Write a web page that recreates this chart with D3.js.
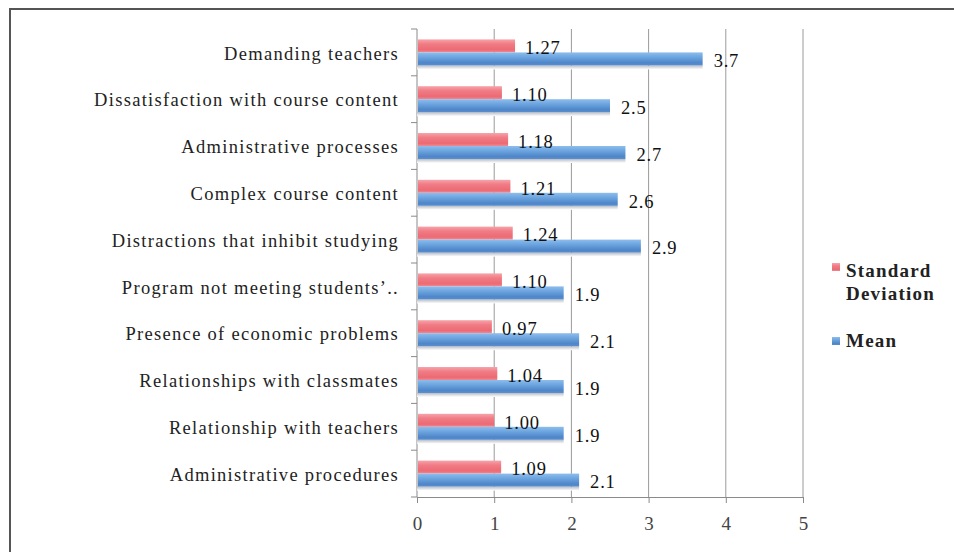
<!DOCTYPE html>
<html>
<head>
<meta charset="utf-8">
<script src="https://cdn.jsdelivr.net/npm/d3@7"></script>
<style>
  body { margin: 0; background: #fff; }
  text { font-family: "Liberation Serif", "Times New Roman", serif; }
</style>
</head>
<body>
<div id="chart"></div>
<script>
// chart values
var categories = [
  "Demanding teachers",
  "Dissatisfaction with course content",
  "Administrative processes",
  "Complex course content",
  "Distractions that inhibit studying",
  "Program not meeting students’..",
  "Presence of economic problems",
  "Relationships with classmates",
  "Relationship with teachers",
  "Administrative procedures"
];
var sdValues   = [1.27, 1.10, 1.18, 1.21, 1.24, 1.10, 0.97, 1.04, 1.00, 1.09];
var sdLabels   = ["1.27", "1.10", "1.18", "1.21", "1.24", "1.10", "0.97", "1.04", "1.00", "1.09"];
var meanValues = [3.7, 2.5, 2.7, 2.6, 2.9, 1.9, 2.1, 1.9, 1.9, 2.1];
var meanLabels = ["3.7", "2.5", "2.7", "2.6", "2.9", "1.9", "2.1", "1.9", "1.9", "2.1"];
var seriesNames = ["Standard Deviation", "Mean"];
var xTicks = [0, 1, 2, 3, 4, 5];

var W = 954, H = 552;
var svg = d3.select("#chart").append("svg")
    .attr("width", W)
    .attr("height", H);

var defs = svg.append("defs");
function grad(id, stops) {
  var g = defs.append("linearGradient").attr("id", id)
      .attr("x1", 0).attr("y1", 0).attr("x2", 0).attr("y2", 1);
  stops.forEach(function(s) {
    g.append("stop").attr("offset", s[0]).attr("stop-color", s[1]);
  });
}
grad("gRed", [[0, "#f7a3aa"], [0.35, "#f07c85"], [0.8, "#ec6a74"], [1, "#f08a92"]]);
grad("gBlue", [[0, "#8ebdec"], [0.35, "#6ea6e0"], [0.8, "#4f86c9"], [1, "#5a8fcf"]]);
grad("gShadow", [[0, "#b8bcc4"], [1, "#ffffff"]]);

// frame
svg.append("line").attr("x1", 9).attr("x2", W).attr("y1", 9).attr("y2", 9)
  .attr("stroke", "#555").attr("stroke-width", 2);
svg.append("line").attr("x1", 10).attr("x2", 10).attr("y1", 8).attr("y2", H)
  .attr("stroke", "#555").attr("stroke-width", 2);

var x = d3.scaleLinear().domain([0, 5]).range([417, 803]);
var y = d3.scaleBand().domain(categories).range([29, 497]);
var ySub = d3.scaleBand().domain(seriesNames).range([0, y.bandwidth()]).paddingOuter(0.8);

// gridlines
svg.append("g").selectAll("line")
  .data(xTicks.slice(1))
  .enter().append("line")
    .attr("x1", function(d) { return x(d); })
    .attr("x2", function(d) { return x(d); })
    .attr("y1", 29).attr("y2", 497)
    .attr("stroke", "#9a9a9a").attr("stroke-width", 1);

// x axis
var xAxis = svg.append("g")
    .attr("transform", "translate(0,497)")
    .call(d3.axisBottom(x).tickValues(xTicks).tickFormat(d3.format("d"))
      .tickSize(6).tickSizeOuter(0).tickPadding(14));
xAxis.select(".domain").attr("stroke", "#8a8a8a");
xAxis.selectAll(".tick line").attr("stroke", "#8a8a8a");
xAxis.selectAll(".tick text")
    .style("font-family", "'Liberation Serif', serif")
    .style("font-size", "19px")
    .attr("fill", "#444");

// y axis line and boundary ticks
svg.append("line").attr("x1", 417).attr("x2", 417).attr("y1", 29).attr("y2", 497)
  .attr("stroke", "#8a8a8a");
var bounds = categories.map(function(c) { return y(c); }).concat([y.range()[1]]);
svg.append("g").selectAll("line")
  .data(bounds)
  .enter().append("line")
    .attr("x1", 411).attr("x2", 417)
    .attr("y1", function(d) { return d; })
    .attr("y2", function(d) { return d; })
    .attr("stroke", "#8a8a8a");

// category labels
svg.append("g").selectAll("text")
  .data(categories)
  .enter().append("text")
    .attr("x", 399)
    .attr("y", function(d) { return y(d) + y.bandwidth() / 2 + 3; })
    .attr("text-anchor", "end")
    .attr("dominant-baseline", "middle")
    .style("font-size", "18.5px")
    .style("letter-spacing", "1.3px")
    .attr("fill", "#222")
    .text(function(d) { return d; });

// bars
var rows = categories.map(function(c, i) {
  return { cat: c, sd: sdValues[i], mean: meanValues[i], sdL: sdLabels[i], meanL: meanLabels[i] };
});
var row = svg.append("g").selectAll("g")
  .data(rows)
  .enter().append("g")
    .attr("transform", function(d) { return "translate(0," + y(d.cat) + ")"; });

// shadow under mean bar
row.append("rect")
    .attr("x", x(0))
    .attr("y", ySub("Mean") + ySub.bandwidth())
    .attr("width", function(d) { return x(d.mean) - x(0); })
    .attr("height", 4)
    .attr("fill", "url(#gShadow)");

row.append("rect")
    .attr("x", x(0) + 1)
    .attr("y", ySub("Standard Deviation"))
    .attr("width", function(d) { return x(d.sd) - x(0) - 1; })
    .attr("height", ySub.bandwidth())
    .attr("fill", "url(#gRed)");

row.append("rect")
    .attr("x", x(0) + 1)
    .attr("y", ySub("Mean"))
    .attr("width", function(d) { return x(d.mean) - x(0) - 1; })
    .attr("height", ySub.bandwidth())
    .attr("fill", "url(#gBlue)");

row.append("text")
    .attr("x", function(d) { return x(d.sd) + 10; })
    .attr("y", ySub("Standard Deviation") + ySub.bandwidth() / 2 + 4)
    .attr("dominant-baseline", "middle")
    .style("font-size", "18.5px")
    .style("letter-spacing", "0.8px")
    .attr("fill", "#111")
    .text(function(d) { return d.sdL; });

row.append("text")
    .attr("x", function(d) { return x(d.mean) + 11; })
    .attr("y", ySub("Mean") + ySub.bandwidth() / 2 + 4)
    .attr("dominant-baseline", "middle")
    .style("font-size", "18.5px")
    .style("letter-spacing", "0.8px")
    .attr("fill", "#111")
    .text(function(d) { return d.meanL; });

// legend
var legend = svg.append("g");
legend.append("rect").attr("x", 832).attr("y", 263).attr("width", 8).attr("height", 8)
  .attr("fill", "url(#gRed)");
legend.append("text").attr("x", 846).attr("y", 277)
  .style("font-size", "19px").style("font-weight", "bold").style("letter-spacing", "1.2px")
  .attr("fill", "#222").text("Standard");
legend.append("text").attr("x", 846).attr("y", 300)
  .style("font-size", "19px").style("font-weight", "bold").style("letter-spacing", "1.2px")
  .attr("fill", "#222").text("Deviation");
legend.append("rect").attr("x", 832).attr("y", 337).attr("width", 8).attr("height", 8)
  .attr("fill", "url(#gBlue)");
legend.append("text").attr("x", 846).attr("y", 347)
  .style("font-size", "19px").style("font-weight", "bold").style("letter-spacing", "1.2px")
  .attr("fill", "#222").text("Mean");
</script>
</body>
</html>
